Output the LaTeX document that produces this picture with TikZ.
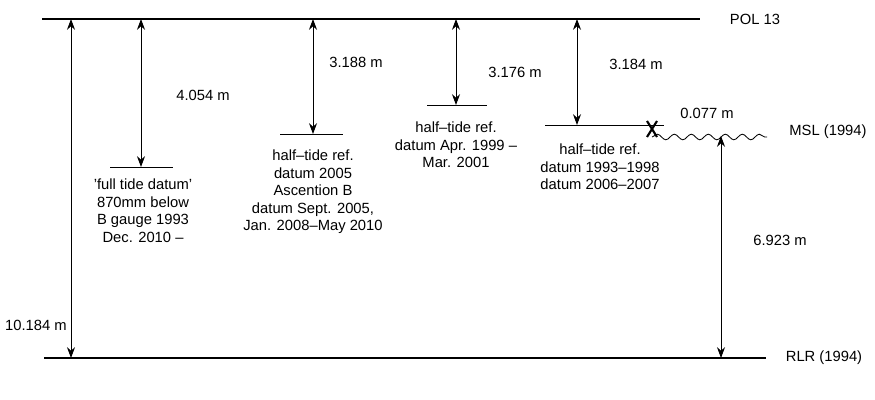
\documentclass[tikz,border=0pt]{standalone}
\usepackage{fontspec}
\setmainfont{Liberation Sans}
\usetikzlibrary{
  arrows.meta,
  positioning,
  decorations.pathmorphing
}

\begin{document}
\begin{tikzpicture}[
    x=0.025cm, y=-0.025cm,
    nivel/.style={line width=2pt},
    datum/.style={line width=0.6pt},
    seta/.style={{Stealth[length=0.27cm,width=0.2cm]}-{Stealth[length=0.27cm,width=0.2cm]},line width=0.6pt},
    rotulo/.style={font=\fontsize{10.5}{12.4}\selectfont, inner sep=0pt},
    texto/.style={rotulo, align=center, anchor=north},
    onda/.style={decorate, decoration={snake, amplitude=0.07cm, segment length=0.425cm}, line width=0.6pt}
    ]
    \useasboundingbox (0,0) rectangle (875,400);

    % reference levels
    \coordinate (polA) at (42,19);
    \coordinate (polB) at (700,19);
    \coordinate (rlrA) at (44,358);
    \coordinate (rlrB) at (766,358);
    \draw[nivel] (polA) -- (polB);
    \draw[nivel] (rlrA) -- (rlrB);
    \node[rotulo] (pol) at (755,19) {POL 13};
    \node[rotulo] (rlr) at (824,358) {RLR (1994)};

    % POL 13 to RLR
    \coordinate (topo0) at (71,19);
    \coordinate (base0) at (71,358);
    \draw[seta] (topo0) -- (base0);
    \node[rotulo] (total) at (36,325) {10.184 m};

    % full tide datum
    \coordinate (topo1) at (141,19);
    \coordinate (base1) at (141,167);
    \draw[datum] (110,167) -- (173,167);
    \draw[seta] (topo1) -- (base1);
    \node[rotulo] (m1) at (203,95) {4.054 m};
    \node[texto] (txt1) at (143,179)
    {'full tide datum'\\870mm below\\B gauge 1993\\Dec. 2010 --};

    % datum 2005
    \coordinate (topo2) at (313,19);
    \coordinate (base2) at (313,134);
    \draw[datum] (280,134) -- (343,134);
    \draw[seta] (topo2) -- (base2);
    \node[rotulo] (m2) at (356,62) {3.188 m};
    \node[texto] (txt2) at (313,150)
    {half--tide ref.\\datum 2005\\Ascention B\\datum Sept. 2005,\\Jan. 2008--May 2010};

    % datum 1999
    \coordinate (topo3) at (456,19);
    \coordinate (base3) at (456,105);
    \draw[datum] (427,105) -- (487,105);
    \draw[seta] (topo3) -- (base3);
    \node[rotulo] (m3) at (515,72) {3.176 m};
    \node[texto] (txt3) at (456,122)
    {half--tide ref.\\datum Apr. 1999 --\\Mar. 2001};

    % datum 1993
    \coordinate (topo4) at (577,19);
    \coordinate (base4) at (577,125);
    \draw[datum] (545,125) -- (664,125);
    \draw[seta] (topo4) -- (base4);
    \node[rotulo] (m4) at (636,64) {3.184 m};
    \node[texto] (txt4) at (600,144)
    {half--tide ref.\\datum 1993--1998\\datum 2006--2007};

    % MSL
    \coordinate (msl0) at (652,137);
    \coordinate (msl1) at (767,137);
    \draw[onda] (msl0) -- (msl1);
    \draw[line width=1.5pt] (647,121) -- (657,137);
    \draw[line width=1.5pt] (657,121) -- (647,137);
    \node[rotulo] (msl) at (828,132) {MSL (1994)};
    \node[rotulo] (m5) at (707,113) {0.077 m};

    \coordinate (topo5) at (721,136);
    \coordinate (base5) at (721,358);
    \draw[seta] (topo5) -- (base5);
    \node[rotulo] (m6) at (780,240) {6.923 m};

\end{tikzpicture}
\end{document}
